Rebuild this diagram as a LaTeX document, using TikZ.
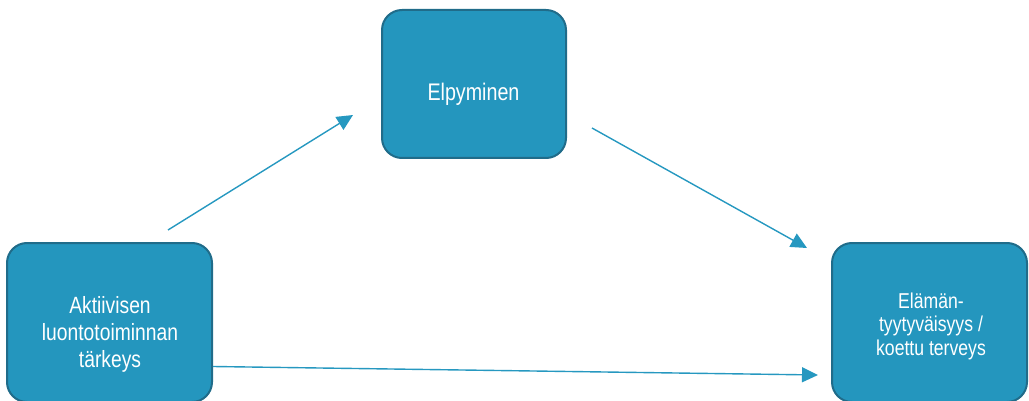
\documentclass[tikz,border=0pt]{standalone}
\usepackage{fontspec}
\setmainfont{Liberation Sans}
\newfontfamily\boxfont[FakeStretch=0.82]{Liberation Sans}
\usetikzlibrary{arrows.meta}

\definecolor{boxfill}{RGB}{36,150,190}
\definecolor{boxedge}{RGB}{32,108,138}
\definecolor{arrowcol}{RGB}{38,152,192}

\tikzset{
  stagebox/.style={draw=boxedge, line width=2pt, fill=boxfill,
    rounded corners=20pt, inner sep=0pt},
  stagetext/.style={text=white, align=center, inner sep=0pt},
  flow/.style={draw=arrowcol, line width=1.4pt,
    -{Triangle[length=16pt,width=15pt]}}
}

\begin{document}
\begin{tikzpicture}[x=1pt,y=-1pt]
  \useasboundingbox (0,0) rectangle (1029,401);

  % the three boxes
  \node[stagebox, minimum width=205pt, minimum height=159pt] (left) at (109.5,322.5) {};
  \node[stagebox, minimum width=184pt, minimum height=148pt] (top) at (474,84) {};
  \node[stagebox, minimum width=195pt, minimum height=159pt] (right) at (929.5,322.5) {};

  % box labels
  \node[stagetext, font=\boxfont\fontsize{23.5}{27}\selectfont] (lefttext) at (110,334)
    {Aktiivisen\\luontotoiminnan\\tärkeys};
  \node[stagetext, font=\boxfont\fontsize{24}{28}\selectfont] (toptext) at (473.5,94.5)
    {Elpyminen};
  \node[stagetext, font=\boxfont\fontsize{21.5}{23.5}\selectfont] (righttext) at (931,326)
    {Elämän-\\tyytyväisyys /\\koettu terveys};

  % arrow end points
  \coordinate (a1s) at (168,230);
  \coordinate (a1e) at (353,115);
  \coordinate (a2s) at (592,128);
  \coordinate (a2e) at (807,248);
  \coordinate (a3s) at (213,366.5);
  \coordinate (a3e) at (818,375);

  % arrows
  \draw[flow] (a1s) -- (a1e);
  \draw[flow] (a2s) -- (a2e);
  \draw[flow] (a3s) -- (a3e);
\end{tikzpicture}
\end{document}
